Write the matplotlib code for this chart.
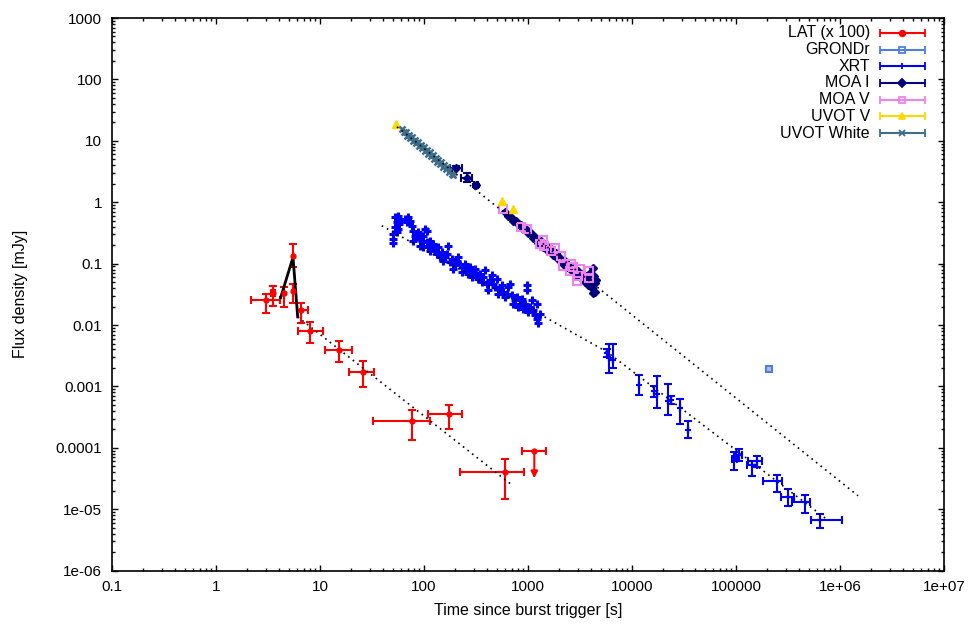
import matplotlib
matplotlib.use("Agg")
import matplotlib.pyplot as plt
import numpy as np

plt.rcParams['font.family'] = ['Liberation Sans', 'DejaVu Sans']

# LAT (x 100)
lat_t = [3.03, 3.56, 4.51, 5.53, 5.5, 6.52, 8.07, 15.3, 26.1, 76, 175, 601]
lat_f = [0.0256, 0.0333, 0.0336, 0.0362, 0.134, 0.0178, 0.00815, 0.0039, 0.0017, 0.000276, 0.000358, 4.02e-5]
lat_tlo = [2.16, 3.41, 4.51, 5.53, 5.5, 6.0, 6.2, 11.2, 19.0, 32, 110, 222]
lat_thi = [4.12, 3.72, 4.51, 5.53, 5.5, 7.7, 10.7, 20.3, 33.2, 114, 233, 911]
lat_flo = [0.0158, 0.0204, 0.0196, 0.0227, 0.0893, 0.0107, 0.00508, 0.00252, 0.00097, 0.000132, 0.000206, 1.46e-5]
lat_fhi = [0.0324, 0.0436, 0.0423, 0.0470, 0.205, 0.0225, 0.0111, 0.00547, 0.00263, 0.000414, 0.000503, 6.67e-5]
lat_ul_t, lat_ul_f = 1150, 8.8e-5
lat_ul_tlo, lat_ul_thi, lat_ul_arrow = 880, 1500, 3.2e-5

# GROND r
grond_t = [2.09e5]
grond_f = [0.00192]

# XRT early
xrt_t = [50.7, 50.7, 50.7, 52.6, 54.6, 52.6, 56.6, 58.8, 56.6, 54.6, 57.9,
         65.6, 68.1, 70.6, 73.3, 76.0, 79.0, 82.0, 79.0, 85.1, 88.3, 91.6,
         95.1, 98.6, 102, 106, 91.6, 98.6, 106, 110, 114, 119, 123, 114,
         128, 132, 137, 143, 148, 153, 159, 165, 171, 178, 185, 191, 199,
         206, 214, 222, 230, 239, 248, 257, 267, 277, 287, 298, 309, 321,
         333, 346, 359, 372, 386, 401, 416, 432, 448, 465, 482, 500, 519,
         538, 559, 580, 601, 624, 648, 672, 697, 723, 750, 778, 808, 838,
         869, 902, 936, 971, 971, 1007, 1045, 1084, 1125, 1167, 1211, 1256,
         1211, 1303]
xrt_f = [0.252, 0.215, 0.304, 0.390, 0.470, 0.566, 0.603, 0.500, 0.366, 0.324, 0.442,
         0.532, 0.470, 0.566, 0.500, 0.415, 0.344, 0.286, 0.237, 0.269, 0.324, 0.269,
         0.237, 0.286, 0.366, 0.344, 0.197, 0.185, 0.223, 0.197, 0.237, 0.185, 0.209, 0.163,
         0.163, 0.144, 0.185, 0.127, 0.153, 0.112, 0.127, 0.144, 0.197, 0.106, 0.120, 0.0824, 0.0993,
         0.112, 0.127, 0.0933, 0.0728, 0.0877, 0.0993, 0.0774, 0.0684, 0.0877, 0.0603, 0.0728, 0.0824, 0.0642,
         0.0567, 0.0684, 0.0500, 0.0603, 0.0774, 0.0470, 0.0366, 0.0532, 0.0642, 0.0470, 0.0415, 0.0567, 0.0324,
         0.0390, 0.0442, 0.0344, 0.0286, 0.0324, 0.0415, 0.0470, 0.0304, 0.0223, 0.0252, 0.0286, 0.0197, 0.0223,
         0.0269, 0.0185, 0.0223, 0.0442, 0.0366, 0.0163, 0.0197, 0.0252, 0.0174, 0.0144, 0.0127, 0.0106,
         0.0223, 0.0153]

# XRT late
xrt2_t = [5710, 6060, 6610, 11750, 16300, 17500, 22300, 23500, 28900, 34800,
          96400, 107700, 141600, 158000, 246000, 314000, 460000, 642000]
xrt2_f = [0.00354, 0.00286, 0.00269, 0.00106, 0.00083, 0.000755, 0.000569, 0.000605, 0.000444, 0.000193,
          6.68e-5, 7.76e-5, 5.22e-5, 6.05e-5, 2.88e-5, 1.6e-5, 1.32e-5, 6.6e-6]
xrt2_flo = [0.0030, 0.00164, 0.00197, 0.000728, 0.000686, 0.000444, 0.000345, 0.00052, 0.000247, 0.000145,
            4.44e-5, 6.21e-5, 3.47e-5, 4.91e-5, 1.93e-5, 1.13e-5, 8.6e-6, 5.0e-6]
xrt2_fhi = [0.0041, 0.00483, 0.00483, 0.00153, 0.00102, 0.00148, 0.00109, 0.0007, 0.000621, 0.000276,
            8.59e-5, 9.48e-5, 6.21e-5, 7.48e-5, 3.55e-5, 2.1e-5, 1.68e-5, 8.5e-6]
xrt2_tlo = [5710, 6060, 6610, 11750, 16300, 17500, 22300, 23500, 28900, 34800,
            91000, 101000, 126800, 130000, 180700, 271000, 345000, 522000]
xrt2_thi = [5710, 6060, 6610, 11750, 16300, 17500, 22300, 23500, 28900, 34800,
            102000, 114000, 158000, 176600, 278600, 361000, 515000, 1.05e6]

# MOA I
moa_i_t = [203, 258, 316, 600, 640, 680, 720, 760, 800, 850, 900, 950, 1000,
           1060, 1120, 1180, 1250, 1320, 1400, 1480, 1560, 1650, 1750,
           1850, 1950, 2050, 2150, 2250, 2350, 2450, 2600, 2750, 2900,
           3050, 3200, 3350, 3500, 3650, 3800, 3900, 3950, 4100, 4200,
           4250, 4300, 4400, 4450, 4550]
moa_i_f = [3.66, 2.52, 1.89, 0.70, 0.60, 0.58, 0.50, 0.49, 0.44, 0.42, 0.36, 0.37, 0.31,
           0.31, 0.26, 0.27, 0.22, 0.23, 0.19, 0.20, 0.16, 0.17, 0.14,
           0.15, 0.12, 0.125, 0.10, 0.11, 0.088, 0.095, 0.078, 0.085, 0.066,
           0.075, 0.058, 0.068, 0.050, 0.062, 0.045, 0.052, 0.070, 0.040, 0.033,
           0.085, 0.062, 0.035, 0.048, 0.055]
moa_i_tlo = [179, 228, 305]
moa_i_thi = [231, 292, 327]
moa_i_flo = [3.45, 2.10, 1.80]
moa_i_fhi = [3.88, 3.03, 1.98]

# MOA V
moa_v_t = [580, 857, 971, 1313, 1383, 1435, 1652, 1820, 2075, 2157, 2535, 2577,
           2730, 2980, 3050, 3160, 3860, 3890]
moa_v_f = [0.79, 0.40, 0.366, 0.212, 0.243, 0.197, 0.163, 0.178, 0.135, 0.093, 0.0745, 0.099,
           0.0877, 0.0513, 0.064, 0.082, 0.058, 0.077]

# UVOT V
uvot_v_t = [54, 562, 718]
uvot_v_f = [18.7, 1.05, 0.79]

# UVOT White
uvot_w_t = [61, 64, 67, 69, 72, 74, 77, 79, 82, 84, 87, 90, 93, 96, 99, 102, 106, 110,
            113, 117, 121, 125, 129, 133, 137, 141, 146, 151, 156, 161, 166, 172, 178, 184, 190]
uvot_w_f = [15.3, 14.0, 13.8, 12.2, 12.5, 11.0, 11.4, 10.1, 10.3, 9.1, 9.6, 8.3, 8.5, 7.5, 8.0, 6.9, 7.0, 6.1,
            6.5, 5.6, 5.9, 5.1, 5.3, 4.6, 4.9, 4.2, 4.5, 3.8, 4.0, 3.5, 3.7, 3.1, 3.4, 2.9, 2.8]

# fitted power laws (vertices in log-log)
lat_peak_t = [4.18, 5.5, 6.1]
lat_peak_f = [0.0279, 0.127, 0.0136]
lat_fit_t = [6.1, 711]
lat_fit_f = [0.0136, 2.44e-5]
xrt_fit_t = [39.2, 5710, 7.45e5]
xrt_fit_f = [0.415, 0.00368, 6.9e-6]
opt_fit_t = [55, 1.49e6]
opt_fit_f = [16.9, 1.66e-5]

c_lat = "#ff0000"
c_grond = "#4f7fdc"
c_xrt = "#0000ff"
c_moai = "#000080"
c_moav = "#ee82ee"
c_uvotv = "#ffd700"
c_uvotw = "#3d6e8c"


def errs(v, lo, hi):
    v = np.array(v, dtype=float)
    return [v - np.array(lo), np.array(hi) - v]


fig = plt.figure(figsize=(9.75, 6.25), dpi=100)
ax = fig.add_axes([0.1149, 0.0869, 0.8533, 0.8843])

# LAT
ax.errorbar(lat_t, lat_f, xerr=errs(lat_t, lat_tlo, lat_thi), yerr=errs(lat_f, lat_flo, lat_fhi),
            fmt='o', ms=3.5, color=c_lat, lw=1.5, capsize=3, capthick=1.5)
ax.errorbar([lat_ul_t], [lat_ul_f], xerr=[[lat_ul_t - lat_ul_tlo], [lat_ul_thi - lat_ul_t]],
            fmt='o', ms=3.5, color=c_lat, lw=1.5, capsize=3, capthick=1.5)
ax.annotate("", xy=(lat_ul_t, lat_ul_arrow), xytext=(lat_ul_t, lat_ul_f),
            arrowprops=dict(arrowstyle="-|>", color=c_lat, lw=1.5, mutation_scale=10, shrinkA=0, shrinkB=0))

# GROND
ax.plot(grond_t, grond_f, 's', ms=4.5, mfc="#a8c0ee", mec=c_grond, mew=1.5)

# XRT
ax.plot(xrt_t, xrt_f, '+', ms=6, mew=2.2, color=c_xrt)
ax.errorbar(xrt2_t, xrt2_f, xerr=errs(xrt2_t, xrt2_tlo, xrt2_thi), yerr=errs(xrt2_f, xrt2_flo, xrt2_fhi),
            fmt='+', ms=5, mew=1.5, color=c_xrt, lw=1.5, capsize=3, capthick=1.5)

# MOA I
ax.errorbar(moa_i_t[:3], moa_i_f[:3], xerr=errs(moa_i_t[:3], moa_i_tlo, moa_i_thi),
            yerr=errs(moa_i_f[:3], moa_i_flo, moa_i_fhi),
            fmt='D', ms=4, color=c_moai, lw=1.5, capsize=3, capthick=1.5)
ax.plot(moa_i_t[3:], moa_i_f[3:], 'D', ms=4.5, color=c_moai)

# MOA V
ax.plot(moa_v_t, moa_v_f, 's', ms=5.5, mfc='none', mec=c_moav, mew=1.5)

# UVOT
ax.plot(uvot_v_t, uvot_v_f, '^', ms=6, color=c_uvotv)
ax.plot(uvot_w_t, uvot_w_f, 'x', ms=5, mew=1.8, color=c_uvotw)

# fits
ax.plot(lat_peak_t, lat_peak_f, '-', color='black', lw=2)
dots = (0, (1, 2.5))
ax.plot(lat_fit_t, lat_fit_f, color='black', lw=1.2, linestyle=dots)
ax.plot(xrt_fit_t, xrt_fit_f, color='black', lw=1.2, linestyle=dots)
ax.plot(opt_fit_t, opt_fit_f, color='black', lw=1.2, linestyle=dots)

ax.set_xscale('log')
ax.set_yscale('log')
ax.set_xlim(0.1, 1e7)
ax.set_ylim(1e-6, 1000)

xt = [0.1, 1, 10, 100, 1000, 1e4, 1e5, 1e6, 1e7]
xtl = ['0.1', '1', '10', '100', '1000', '10000', '100000', '1e+06', '1e+07']
yt = [1e-6, 1e-5, 1e-4, 1e-3, 1e-2, 0.1, 1, 10, 100, 1000]
ytl = ['1e-06', '1e-05', '0.0001', '0.001', '0.01', '0.1', '1', '10', '100', '1000']
ax.set_xticks(xt)
ax.set_xticklabels(xtl)
ax.set_yticks(yt)
ax.set_yticklabels(ytl)
ax.xaxis.set_minor_locator(matplotlib.ticker.LogLocator(subs=np.arange(2, 10), numticks=20))
ax.yaxis.set_minor_locator(matplotlib.ticker.LogLocator(subs=np.arange(2, 10), numticks=20))
ax.xaxis.set_minor_formatter(matplotlib.ticker.NullFormatter())
ax.yaxis.set_minor_formatter(matplotlib.ticker.NullFormatter())
ax.tick_params(which='both', direction='in', top=True, right=True, labelsize=11, width=1)
ax.tick_params(which='major', length=4.5, pad=7)
ax.tick_params(which='minor', length=2.5)
for s in ax.spines.values():
    s.set_linewidth(1.2)

ax.set_xlabel("Time since burst trigger [s]", fontsize=11.5, labelpad=6)
ax.set_ylabel("Flux density [mJy]", fontsize=11.5, labelpad=20)

# key, gnuplot style (label right-aligned, sample on the right)
leg_labels = ["LAT (x 100)", "GRONDr", "XRT", "MOA I", "MOA V", "UVOT V", "UVOT White"]
leg_colors = [c_lat, c_grond, c_xrt, c_moai, c_moav, c_uvotv, c_uvotw]
leg_marks = ['o', 's', '+', 'D', 's', '^', 'x']
for i in range(len(leg_labels)):
    yy = 0.973 - i * 0.0302
    mfc = 'none' if leg_marks[i] == 's' else leg_colors[i]
    ax.errorbar([0.950], [yy], xerr=[0.027], fmt=leg_marks[i], ms=4, mfc=mfc, mew=1.3,
                color=leg_colors[i], lw=1.5, capsize=3, capthick=1.5,
                transform=ax.transAxes, clip_on=False)
    ax.text(0.911, yy, leg_labels[i], ha='right', va='center', fontsize=11.5,
            transform=ax.transAxes)

fig.savefig("out.png", dpi=100)
